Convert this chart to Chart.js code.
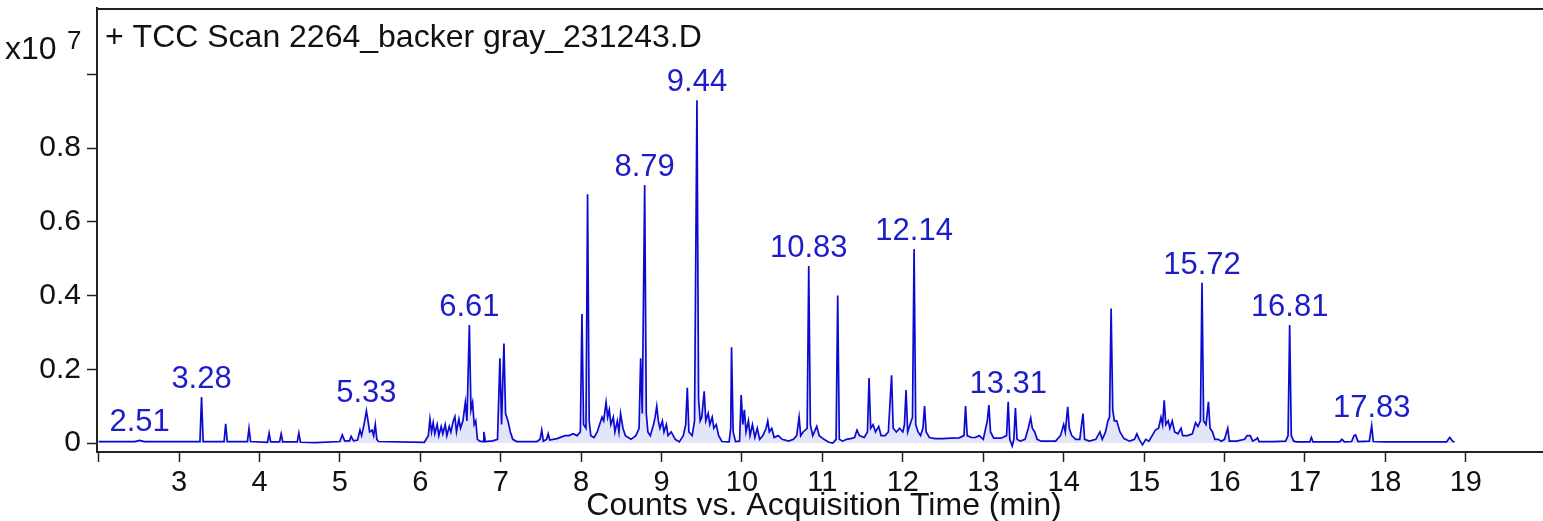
<!DOCTYPE html>
<html>
<head>
<meta charset="utf-8">
<script src="https://cdn.jsdelivr.net/npm/chart.js@4.4.1/dist/chart.umd.min.js"></script>
<style>
    html, body { margin: 0; padding: 0; background: #fff; }
    canvas { display: block; }
</style>
</head>
<body>
<canvas id="myChart" width="1543" height="521"></canvas>
<script>
// Время удерживания (мин) и сигнал (x10^7)
const retentionTimes = [
    2.00, 2.45, 2.51, 2.57, 3.00, 3.26, 3.28, 3.30, 3.56, 3.58,
    3.60, 3.85, 3.87, 3.89, 4.10, 4.12, 4.14, 4.25, 4.27, 4.29,
    4.47, 4.49, 4.51, 4.70, 5.00, 5.03, 5.06, 5.12, 5.14, 5.17,
    5.22, 5.25, 5.27, 5.30, 5.33, 5.35, 5.37, 5.40, 5.42, 5.44,
    5.46, 5.48, 6.05, 6.10, 6.12, 6.14, 6.16, 6.18, 6.21, 6.23,
    6.26, 6.28, 6.31, 6.33, 6.36, 6.38, 6.41, 6.43, 6.45, 6.48,
    6.50, 6.53, 6.56, 6.58, 6.61, 6.63, 6.65, 6.67, 6.69, 6.71,
    6.74, 6.78, 6.79, 6.81, 6.90, 6.96, 6.99, 7.01, 7.04, 7.06,
    7.09, 7.12, 7.15, 7.20, 7.45, 7.49, 7.51, 7.53, 7.57, 7.59,
    7.61, 7.70, 7.80, 7.85, 7.90, 7.95, 7.99, 8.01, 8.03, 8.06,
    8.08, 8.10, 8.12, 8.16, 8.20, 8.23, 8.26, 8.28, 8.31, 8.33,
    8.35, 8.37, 8.40, 8.42, 8.45, 8.47, 8.49, 8.52, 8.55, 8.62,
    8.68, 8.72, 8.74, 8.76, 8.79, 8.81, 8.83, 8.86, 8.90, 8.92,
    8.94, 8.96, 8.98, 9.01, 9.03, 9.06, 9.08, 9.12, 9.17, 9.22,
    9.27, 9.30, 9.32, 9.34, 9.38, 9.41, 9.44, 9.46, 9.48, 9.50,
    9.53, 9.55, 9.58, 9.60, 9.63, 9.65, 9.68, 9.71, 9.75, 9.84,
    9.86, 9.87, 9.89, 9.92, 9.97, 9.99, 10.01, 10.03, 10.05, 10.08,
    10.10, 10.13, 10.16, 10.19, 10.22, 10.26, 10.30, 10.32, 10.34, 10.37,
    10.40, 10.45, 10.50, 10.58, 10.64, 10.68, 10.71, 10.73, 10.76, 10.81,
    10.83, 10.85, 10.88, 10.90, 10.93, 10.96, 11.02, 11.08, 11.13, 11.17,
    11.19, 11.21, 11.25, 11.30, 11.35, 11.40, 11.43, 11.46, 11.52, 11.56,
    11.58, 11.60, 11.63, 11.66, 11.70, 11.73, 11.78, 11.82, 11.86, 11.88,
    11.92, 11.96, 12.00, 12.02, 12.04, 12.06, 12.09, 12.12, 12.14, 12.16,
    12.19, 12.22, 12.25, 12.27, 12.29, 12.33, 12.40, 12.50, 12.60, 12.70,
    12.76, 12.78, 12.80, 12.85, 12.90, 12.95, 13.00, 13.03, 13.05, 13.07,
    13.09, 13.13, 13.22, 13.29, 13.31, 13.33, 13.36, 13.38, 13.40, 13.42,
    13.46, 13.52, 13.56, 13.59, 13.61, 13.64, 13.67, 13.72, 13.90, 13.96,
    14.00, 14.02, 14.05, 14.07, 14.10, 14.15, 14.20, 14.24, 14.26, 14.32,
    14.40, 14.45, 14.48, 14.52, 14.55, 14.57, 14.59, 14.61, 14.63, 14.66,
    14.70, 14.75, 14.82, 14.88, 14.91, 14.94, 14.98, 15.02, 15.06, 15.10,
    15.14, 15.18, 15.21, 15.23, 15.25, 15.27, 15.30, 15.32, 15.35, 15.38,
    15.42, 15.46, 15.48, 15.54, 15.60, 15.64, 15.67, 15.70, 15.72, 15.74,
    15.77, 15.80, 15.82, 15.85, 15.88, 15.92, 15.96, 16.00, 16.04, 16.06,
    16.15, 16.25, 16.28, 16.32, 16.35, 16.39, 16.41, 16.43, 16.60, 16.76,
    16.79, 16.81, 16.83, 16.86, 16.90, 17.06, 17.08, 17.10, 17.43, 17.46,
    17.49, 17.58, 17.61, 17.63, 17.66, 17.80, 17.83, 17.85, 18.00, 18.50,
    18.76, 18.80, 18.84, 18.86
];

const counts = [
    .004, .004, .007, .004, .004, .004, .125, .004, .004, .052,
    .004, .004, .040, .004, .002, .027, .003, .003, .025, .003,
    .003, .027, .002, .001, .004, .022, .006, .006, .018, .006,
    .008, .035, .020, .050, .087, .060, .030, .035, .020, .050,
    .010, .004, .002, .020, .065, .030, .055, .025, .050, .020,
    .045, .025, .050, .020, .045, .030, .060, .072, .030, .065,
    .040, .060, .110, .060, .320, .090, .110, .050, .060, .010,
    .005, .004, .030, .004, .006, .010, .230, .050, .270, .080,
    .060, .030, .010, .004, .004, .010, .035, .005, .010, .025,
    .008, .012, .020, .020, .025, .020, .030, .350, .050, .040,
    .675, .060, .020, .015, .030, .050, .070, .060, .110, .070,
    .090, .050, .070, .030, .060, .030, .080, .040, .020, .010,
    .020, .040, .230, .080, .700, .080, .030, .020, .050, .070,
    .100, .060, .040, .060, .030, .050, .020, .030, .010, .003,
    .020, .050, .150, .030, .020, .060, .930, .120, .060, .070,
    .140, .060, .080, .050, .070, .040, .050, .020, .004, .003,
    .040, .260, .030, .004, .005, .130, .050, .090, .030, .060,
    .020, .050, .015, .040, .010, .020, .040, .060, .030, .040,
    .015, .020, .010, .005, .010, .020, .070, .020, .030, .040,
    .480, .050, .020, .030, .045, .020, .010, .002, .000, .010,
    .400, .010, .005, .010, .012, .015, .035, .020, .015, .030,
    .176, .040, .050, .030, .045, .020, .020, .030, .184, .040,
    .030, .040, .030, .050, .144, .030, .050, .070, .526, .050,
    .030, .020, .040, .100, .030, .015, .012, .012, .013, .014,
    .020, .100, .020, .015, .015, .020, .010, .040, .060, .103,
    .030, .013, .013, .020, .112, .010, -.008, .010, .095, .010,
    .005, .010, .040, .068, .040, .030, .010, .005, .005, .020,
    .050, .030, .098, .040, .020, .010, .010, .080, .010, .005,
    .010, .030, .010, .030, .060, .070, .365, .090, .060, .060,
    .030, .012, .005, .010, .025, .010, -.005, .010, .005, .020,
    .035, .040, .070, .050, .116, .050, .060, .040, .060, .030,
    .025, .040, .020, .020, .025, .055, .045, .060, .435, .060,
    .050, .112, .040, .030, .010, .010, .005, .010, .040, .005,
    .005, .010, .020, .020, .005, .010, .014, .004, .004, .005,
    .020, .320, .020, .005, .003, .003, .015, .003, .003, .010,
    .003, .004, .020, .022, .004, .005, .047, .004, .003, .003,
    .003, .015, .004, .003
];

// Подписи пиков
const peakLabels = ['2.51', '3.28', '5.33', '6.61', '8.79', '9.44', '10.83', '12.14', '13.31', '15.72', '16.81', '17.83'];

// Деления осей
const xTicks = [2, 3, 4, 5, 6, 7, 8, 9, 10, 11, 12, 13, 14, 15, 16, 17, 18, 19];
const xTickLabels = ['', '3', '4', '5', '6', '7', '8', '9', '10', '11', '12', '13', '14', '15', '16', '17', '18', '19'];
const yTicks = [0, 0.2, 0.4, 0.6, 0.8, 1.0];
const yTickLabels = ['0', '0.2', '0.4', '0.6', '0.8', ''];

const chartTitle = '+ TCC Scan 2264_backer gray_231243.D';
const xTitle = 'Counts vs. Acquisition Time (min)';

const FONT = '"Liberation Sans", Arial, sans-serif';

// Тексты и верхняя рамка
const textPlugin = {
    id: 'texts',
    afterDraw(chart) {
        const { ctx, chartArea, scales } = chart;
        const x = scales.x;
        const y = scales.y;
        ctx.save();

        ctx.strokeStyle = '#222';
        ctx.lineWidth = 2;
        ctx.beginPath();
        ctx.moveTo(chartArea.left, chartArea.top + 1);
        ctx.lineTo(chartArea.right, chartArea.top + 1);
        ctx.stroke();

        ctx.fillStyle = '#1c1cc8';
        ctx.font = `31px ${FONT}`;
        ctx.textAlign = 'center';
        ctx.textBaseline = 'alphabetic';
        peakLabels.forEach((label) => {
            const t = parseFloat(label);
            let top = 0;
            retentionTimes.forEach((rt, i) => {
                if (Math.abs(rt - t) < 0.03) top = Math.max(top, counts[i]);
            });
            ctx.fillText(label, x.getPixelForValue(t), y.getPixelForValue(top) - 9);
        });

        ctx.fillStyle = '#111';
        ctx.textAlign = 'left';
        ctx.font = `32px ${FONT}`;
        ctx.fillText(chartTitle, chartArea.left + 8, 47);

        ctx.font = `32px ${FONT}`;
        ctx.fillText('x10', 5, 59);
        ctx.font = `26px ${FONT}`;
        ctx.fillText('7', 67, 49);

        ctx.font = `32px ${FONT}`;
        ctx.textAlign = 'center';
        ctx.textBaseline = 'middle';
        ctx.fillText(xTitle, (chartArea.left + chartArea.right) / 2 + 4, 506);
        ctx.restore();
    }
};

function renderChromatogram() {
    const ctx = document.getElementById('myChart').getContext('2d');
    const myChart = new Chart(ctx, {
        type: 'line',
        data: {
            datasets: [{
                data: retentionTimes.map((t, i) => ({ x: t, y: counts[i] })),
                borderColor: '#0a0ad2',
                borderWidth: 1.7,
                backgroundColor: 'rgba(40, 40, 210, 0.12)',
                fill: 'origin',
                pointRadius: 0,
                tension: 0,
            }]
        },
        options: {
            responsive: false,
            animation: false,
            layout: {
                autoPadding: false,
                padding: { top: 8, right: 0, bottom: 0, left: 0 },
            },
            plugins: {
                legend: { display: false },
                tooltip: { enabled: false },
            },
            scales: {
                x: {
                    type: 'linear',
                    min: 1.98,
                    max: 19.96,
                    afterBuildTicks: (axis) => { axis.ticks = xTicks.map((v) => ({ value: v })); },
                    afterFit: (axis) => {
                        axis.height = 69;
                        axis.paddingLeft = 0;
                        axis.paddingRight = 0;
                    },
                    ticks: {
                        callback: (v, i) => xTickLabels[i],
                        autoSkip: false,
                        maxRotation: 0,
                        padding: 4,
                        color: '#111',
                        font: { family: FONT, size: 29 },
                    },
                    grid: { drawOnChartArea: false, tickLength: 10, tickWidth: 1.5, color: '#222' },
                    border: { color: '#222', width: 2 },
                },
                y: {
                    type: 'linear',
                    min: -0.0244,
                    max: 1.18,
                    afterBuildTicks: (axis) => { axis.ticks = yTicks.map((v) => ({ value: v })); },
                    afterFit: (axis) => {
                        axis.width = 97;
                        axis.paddingTop = 0;
                        axis.paddingBottom = 0;
                    },
                    ticks: {
                        callback: (v, i) => yTickLabels[i],
                        padding: 6,
                        color: '#111',
                        font: { family: FONT, size: 30 },
                    },
                    grid: { drawOnChartArea: false, tickLength: 10, tickWidth: 1.5, color: '#222' },
                    border: { color: '#222', width: 2 },
                },
            },
        },
        plugins: [textPlugin],
    });
}

document.addEventListener('DOMContentLoaded', () => {
    renderChromatogram();
});
</script>
</body>
</html>
